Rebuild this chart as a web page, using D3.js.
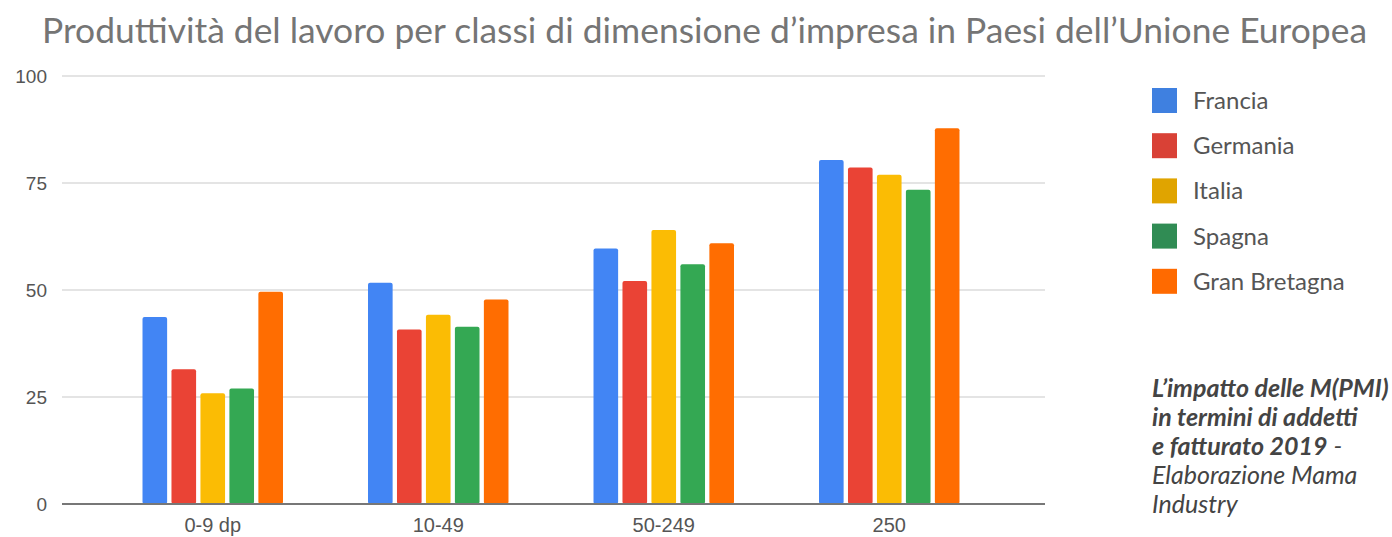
<!DOCTYPE html>
<html>
<head>
<meta charset="utf-8">
<script src="https://cdn.jsdelivr.net/npm/d3@7"></script>
<style>
  html, body { margin: 0; padding: 0; background: #fff; overflow: hidden; }
  svg { display: block; }
</style>
</head>
<body>
<svg id="chart" width="1392" height="537"></svg>
<script>
const title = "Produttività del lavoro per classi di dimensione d’impresa in Paesi dell’Unione Europea";
const categories = ["0-9 dp", "10-49", "50-249", "250"];
const seriesNames = ["Francia", "Germania", "Italia", "Spagna", "Gran Bretagna"];
const francia = [43.7, 51.7, 59.7, 80.4];
const germania = [31.5, 40.8, 52.1, 78.6];
const italia = [25.9, 44.2, 64.0, 76.9];
const spagna = [27.0, 41.4, 56.0, 73.4];
const granBretagna = [49.6, 47.8, 60.9, 87.8];
const yTicks = [0, 25, 50, 75, 100];
const barColors = ["#4285f4", "#ea4335", "#fbbc04", "#34a853", "#ff6d01"];
const legendColors = ["#3f80e0", "#d94136", "#e0a400", "#308c54", "#ff6a00"];
const noteLines = [
  [{t: "L’impatto delle M(PMI)", b: true}],
  [{t: "in termini di addetti", b: true}],
  [{t: "e fatturato 2019", b: true}, {t: " -", b: false}],
  [{t: "Elaborazione Mama", b: false}],
  [{t: "Industry", b: false}]
];

const seriesValues = [francia, germania, italia, spagna, granBretagna];

const svg = d3.select("#chart");
const gridLeft = 62, gridRight = 1045;
const y = d3.scaleLinear().domain([0, 100]).range([504, 76]);
const x0 = d3.scaleBand().domain(categories).range([100, 1002]).paddingInner(0.377).paddingOuter(0.1885);
const x1 = d3.scaleBand().domain(seriesNames).range([0, x0.bandwidth()]).paddingInner(0.15);

// title
svg.append("text")
  .attr("x", 42).attr("y", 43)
  .attr("textLength", 1325).attr("lengthAdjust", "spacingAndGlyphs")
  .style("font-family", "Lato, 'Noto Sans', sans-serif")
  .style("font-size", "35px")
  .style("fill", "#757575")
  .text(title);

// y axis labels
const yAxis = d3.axisLeft(y).tickValues(yTicks).tickSize(0).tickPadding(0);
const gy = svg.append("g").attr("transform", `translate(${gridLeft - 15},0)`).call(yAxis);
gy.select(".domain").remove();
gy.selectAll("text")
  .style("font-family", "'Liberation Sans', Arial, sans-serif")
  .style("font-size", "19px")
  .style("fill", "#555");

// gridlines
svg.append("g").selectAll("line")
  .data(yTicks.filter(d => d > 0))
  .join("line")
  .attr("x1", gridLeft).attr("x2", gridRight)
  .attr("y1", d => y(d)).attr("y2", d => y(d))
  .attr("stroke", "#e4e4e4").attr("stroke-width", 2);

// bars
const groups = svg.append("g").selectAll("g")
  .data(categories)
  .join("g")
  .attr("transform", d => `translate(${x0(d)},0)`);

groups.selectAll("rect")
  .data((c, i) => seriesNames.map((s, j) => ({s, j, v: seriesValues[j][i]})))
  .join("rect")
  .attr("x", d => x1(d.s))
  .attr("width", x1.bandwidth())
  .attr("y", d => y(d.v))
  .attr("height", d => y(0) - y(d.v))
  .attr("rx", 2)
  .attr("fill", d => barColors[d.j]);

// baseline
svg.append("line")
  .attr("x1", gridLeft).attr("x2", gridRight)
  .attr("y1", y(0)).attr("y2", y(0))
  .attr("stroke", "#777").attr("stroke-width", 2);

// x axis labels
const xAxis = d3.axisBottom(x0).tickSize(0).tickPadding(0);
const gx = svg.append("g").attr("transform", `translate(0,${y(0) + 14})`).call(xAxis);
gx.select(".domain").remove();
gx.selectAll("text")
  .attr("dy", "0.71em")
  .style("font-family", "'Liberation Sans', Arial, sans-serif")
  .style("font-size", "20px")
  .style("fill", "#555");

// legend
const legend = svg.append("g").attr("transform", "translate(1152,88)");
const li = legend.selectAll("g").data(seriesNames).join("g")
  .attr("transform", (d, i) => `translate(0,${i * 45.2})`);
li.append("rect").attr("width", 25).attr("height", 25).attr("fill", (d, i) => legendColors[i]);
li.append("text")
  .attr("x", 41).attr("y", 21)
  .style("font-family", "Lato, 'Noto Sans', sans-serif")
  .style("font-size", "24px")
  .style("fill", "#555")
  .text(d => d);

// note
const note = svg.append("g").attr("transform", "translate(1152,397)");
noteLines.forEach((line, i) => {
  const t = note.append("text").attr("x", 0).attr("y", i * 29)
    .style("font-family", "Lato, 'Noto Sans', sans-serif")
    .style("font-size", "25px")
    .style("font-style", "italic")
    .style("fill", "#444");
  line.forEach(seg => {
    t.append("tspan").style("font-weight", seg.b ? "700" : "400").text(seg.t);
  });
});
</script>
</body>
</html>
